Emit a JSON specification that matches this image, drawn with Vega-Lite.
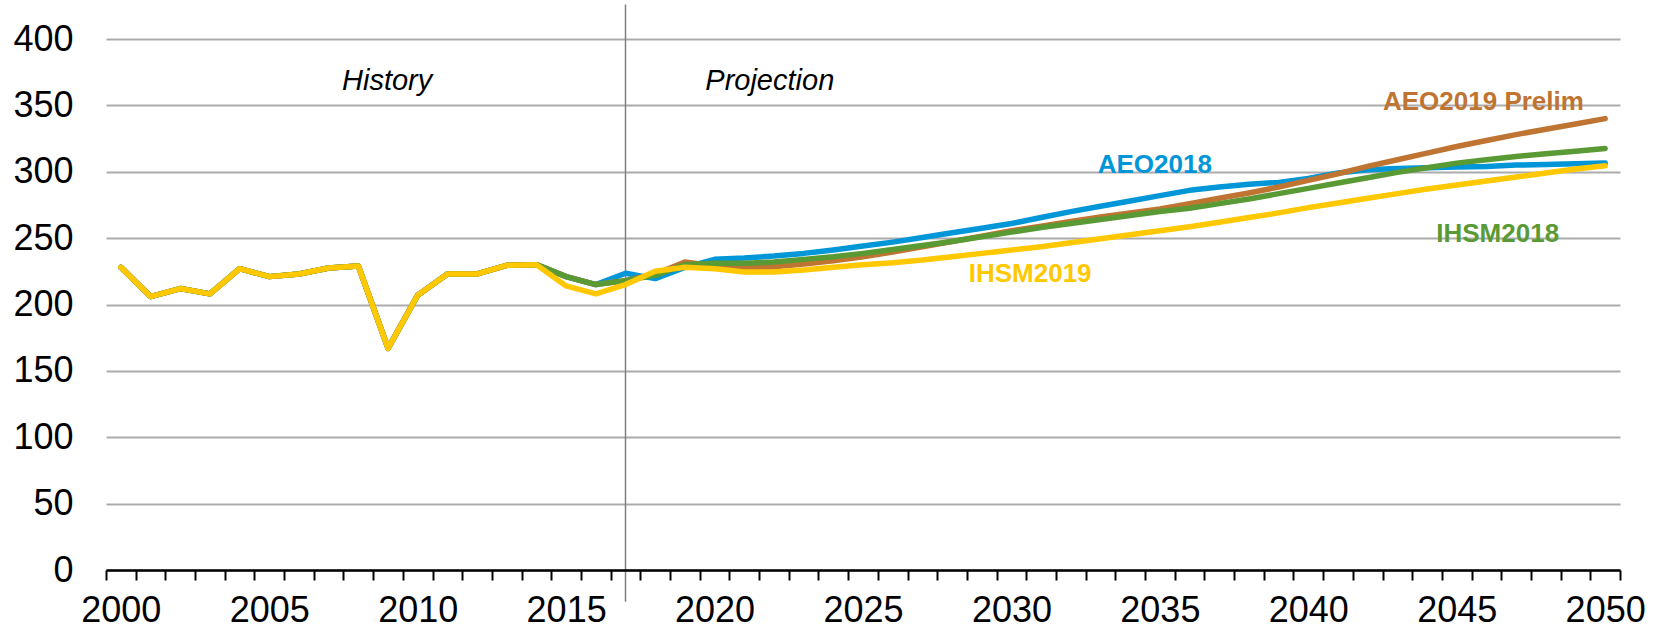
{
  "$schema": "https://vega.github.io/schema/vega-lite/v6.json",
  "width": 1514,
  "height": 531,
  "autosize": {"type": "none"},
  "padding": {"left": 106, "top": 39, "right": 43, "bottom": 61},
  "background": "white",
  "config": {
    "view": {"stroke": null},
    "font": "Liberation Sans"
  },
  "datasets": {
    "series": [
      {"year":2000,"value":228,"series":"AEO2018"},{"year":2001,"value":206,"series":"AEO2018"},{"year":2002,"value":212,"series":"AEO2018"},{"year":2003,"value":208,"series":"AEO2018"},{"year":2004,"value":227,"series":"AEO2018"},{"year":2005,"value":221,"series":"AEO2018"},{"year":2006,"value":223,"series":"AEO2018"},{"year":2007,"value":227.5,"series":"AEO2018"},{"year":2008,"value":229,"series":"AEO2018"},{"year":2009,"value":167,"series":"AEO2018"},{"year":2010,"value":207,"series":"AEO2018"},{"year":2011,"value":223,"series":"AEO2018"},{"year":2012,"value":223,"series":"AEO2018"},{"year":2013,"value":229.5,"series":"AEO2018"},{"year":2014,"value":230,"series":"AEO2018"},{"year":2015,"value":221,"series":"AEO2018"},{"year":2016,"value":215,"series":"AEO2018"},{"year":2017,"value":223.5,"series":"AEO2018"},{"year":2018,"value":219.5,"series":"AEO2018"},{"year":2019,"value":228,"series":"AEO2018"},{"year":2020,"value":234,"series":"AEO2018"},{"year":2021,"value":235,"series":"AEO2018"},{"year":2022,"value":236.5,"series":"AEO2018"},{"year":2023,"value":238.5,"series":"AEO2018"},{"year":2024,"value":241,"series":"AEO2018"},{"year":2025,"value":244,"series":"AEO2018"},{"year":2026,"value":247,"series":"AEO2018"},{"year":2027,"value":250.5,"series":"AEO2018"},{"year":2028,"value":254,"series":"AEO2018"},{"year":2029,"value":257.5,"series":"AEO2018"},{"year":2030,"value":261,"series":"AEO2018"},{"year":2031,"value":265.5,"series":"AEO2018"},{"year":2032,"value":270,"series":"AEO2018"},{"year":2033,"value":274,"series":"AEO2018"},{"year":2034,"value":278,"series":"AEO2018"},{"year":2035,"value":282,"series":"AEO2018"},{"year":2036,"value":286,"series":"AEO2018"},{"year":2037,"value":288.5,"series":"AEO2018"},{"year":2038,"value":290.5,"series":"AEO2018"},{"year":2039,"value":292,"series":"AEO2018"},{"year":2040,"value":295,"series":"AEO2018"},{"year":2041,"value":299,"series":"AEO2018"},{"year":2042,"value":301.5,"series":"AEO2018"},{"year":2043,"value":302.5,"series":"AEO2018"},{"year":2044,"value":303,"series":"AEO2018"},{"year":2045,"value":303.5,"series":"AEO2018"},{"year":2046,"value":304,"series":"AEO2018"},{"year":2047,"value":305,"series":"AEO2018"},{"year":2048,"value":305.5,"series":"AEO2018"},{"year":2049,"value":306,"series":"AEO2018"},{"year":2050,"value":306.5,"series":"AEO2018"},

      {"year":2000,"value":228,"series":"AEO2019 Prelim"},{"year":2001,"value":206,"series":"AEO2019 Prelim"},{"year":2002,"value":212,"series":"AEO2019 Prelim"},{"year":2003,"value":208,"series":"AEO2019 Prelim"},{"year":2004,"value":227,"series":"AEO2019 Prelim"},{"year":2005,"value":221,"series":"AEO2019 Prelim"},{"year":2006,"value":223,"series":"AEO2019 Prelim"},{"year":2007,"value":227.5,"series":"AEO2019 Prelim"},{"year":2008,"value":229,"series":"AEO2019 Prelim"},{"year":2009,"value":167,"series":"AEO2019 Prelim"},{"year":2010,"value":207,"series":"AEO2019 Prelim"},{"year":2011,"value":223,"series":"AEO2019 Prelim"},{"year":2012,"value":223,"series":"AEO2019 Prelim"},{"year":2013,"value":229.5,"series":"AEO2019 Prelim"},{"year":2014,"value":230,"series":"AEO2019 Prelim"},{"year":2015,"value":221,"series":"AEO2019 Prelim"},{"year":2016,"value":215,"series":"AEO2019 Prelim"},{"year":2017,"value":218,"series":"AEO2019 Prelim"},{"year":2018,"value":223,"series":"AEO2019 Prelim"},{"year":2019,"value":232,"series":"AEO2019 Prelim"},{"year":2020,"value":229,"series":"AEO2019 Prelim"},{"year":2021,"value":227.5,"series":"AEO2019 Prelim"},{"year":2022,"value":228.5,"series":"AEO2019 Prelim"},{"year":2023,"value":230.5,"series":"AEO2019 Prelim"},{"year":2024,"value":233,"series":"AEO2019 Prelim"},{"year":2025,"value":236,"series":"AEO2019 Prelim"},{"year":2026,"value":239.5,"series":"AEO2019 Prelim"},{"year":2027,"value":243.5,"series":"AEO2019 Prelim"},{"year":2028,"value":247.5,"series":"AEO2019 Prelim"},{"year":2029,"value":251.5,"series":"AEO2019 Prelim"},{"year":2030,"value":255.5,"series":"AEO2019 Prelim"},{"year":2031,"value":259,"series":"AEO2019 Prelim"},{"year":2032,"value":262.5,"series":"AEO2019 Prelim"},{"year":2033,"value":266,"series":"AEO2019 Prelim"},{"year":2034,"value":269,"series":"AEO2019 Prelim"},{"year":2035,"value":272,"series":"AEO2019 Prelim"},{"year":2036,"value":276,"series":"AEO2019 Prelim"},{"year":2037,"value":280,"series":"AEO2019 Prelim"},{"year":2038,"value":284,"series":"AEO2019 Prelim"},{"year":2039,"value":288.5,"series":"AEO2019 Prelim"},{"year":2040,"value":293.5,"series":"AEO2019 Prelim"},{"year":2041,"value":298.5,"series":"AEO2019 Prelim"},{"year":2042,"value":304,"series":"AEO2019 Prelim"},{"year":2043,"value":309,"series":"AEO2019 Prelim"},{"year":2044,"value":314,"series":"AEO2019 Prelim"},{"year":2045,"value":319,"series":"AEO2019 Prelim"},{"year":2046,"value":323.5,"series":"AEO2019 Prelim"},{"year":2047,"value":328,"series":"AEO2019 Prelim"},{"year":2048,"value":332,"series":"AEO2019 Prelim"},{"year":2049,"value":336,"series":"AEO2019 Prelim"},{"year":2050,"value":340,"series":"AEO2019 Prelim"},

      {"year":2000,"value":228,"series":"IHSM2018"},{"year":2001,"value":206,"series":"IHSM2018"},{"year":2002,"value":212,"series":"IHSM2018"},{"year":2003,"value":208,"series":"IHSM2018"},{"year":2004,"value":227,"series":"IHSM2018"},{"year":2005,"value":221,"series":"IHSM2018"},{"year":2006,"value":223,"series":"IHSM2018"},{"year":2007,"value":227.5,"series":"IHSM2018"},{"year":2008,"value":229,"series":"IHSM2018"},{"year":2009,"value":167,"series":"IHSM2018"},{"year":2010,"value":207,"series":"IHSM2018"},{"year":2011,"value":223,"series":"IHSM2018"},{"year":2012,"value":223,"series":"IHSM2018"},{"year":2013,"value":229.5,"series":"IHSM2018"},{"year":2014,"value":230,"series":"IHSM2018"},{"year":2015,"value":221,"series":"IHSM2018"},{"year":2016,"value":215,"series":"IHSM2018"},{"year":2017,"value":218,"series":"IHSM2018"},{"year":2018,"value":222,"series":"IHSM2018"},{"year":2019,"value":230,"series":"IHSM2018"},{"year":2020,"value":231,"series":"IHSM2018"},{"year":2021,"value":231,"series":"IHSM2018"},{"year":2022,"value":232,"series":"IHSM2018"},{"year":2023,"value":234,"series":"IHSM2018"},{"year":2024,"value":236,"series":"IHSM2018"},{"year":2025,"value":238.5,"series":"IHSM2018"},{"year":2026,"value":241.5,"series":"IHSM2018"},{"year":2027,"value":244.5,"series":"IHSM2018"},{"year":2028,"value":247.5,"series":"IHSM2018"},{"year":2029,"value":251,"series":"IHSM2018"},{"year":2030,"value":254.5,"series":"IHSM2018"},{"year":2031,"value":258,"series":"IHSM2018"},{"year":2032,"value":261,"series":"IHSM2018"},{"year":2033,"value":264,"series":"IHSM2018"},{"year":2034,"value":267,"series":"IHSM2018"},{"year":2035,"value":270,"series":"IHSM2018"},{"year":2036,"value":272.5,"series":"IHSM2018"},{"year":2037,"value":276,"series":"IHSM2018"},{"year":2038,"value":279.5,"series":"IHSM2018"},{"year":2039,"value":283.5,"series":"IHSM2018"},{"year":2040,"value":287.5,"series":"IHSM2018"},{"year":2041,"value":291.5,"series":"IHSM2018"},{"year":2042,"value":295.5,"series":"IHSM2018"},{"year":2043,"value":299.5,"series":"IHSM2018"},{"year":2044,"value":303,"series":"IHSM2018"},{"year":2045,"value":306.5,"series":"IHSM2018"},{"year":2046,"value":309,"series":"IHSM2018"},{"year":2047,"value":311.5,"series":"IHSM2018"},{"year":2048,"value":313.5,"series":"IHSM2018"},{"year":2049,"value":315.5,"series":"IHSM2018"},{"year":2050,"value":317.5,"series":"IHSM2018"},

      {"year":2000,"value":228,"series":"IHSM2019"},{"year":2001,"value":206,"series":"IHSM2019"},{"year":2002,"value":212,"series":"IHSM2019"},{"year":2003,"value":208,"series":"IHSM2019"},{"year":2004,"value":227,"series":"IHSM2019"},{"year":2005,"value":221,"series":"IHSM2019"},{"year":2006,"value":223,"series":"IHSM2019"},{"year":2007,"value":227.5,"series":"IHSM2019"},{"year":2008,"value":229,"series":"IHSM2019"},{"year":2009,"value":167,"series":"IHSM2019"},{"year":2010,"value":207,"series":"IHSM2019"},{"year":2011,"value":223,"series":"IHSM2019"},{"year":2012,"value":223,"series":"IHSM2019"},{"year":2013,"value":229.5,"series":"IHSM2019"},{"year":2014,"value":230,"series":"IHSM2019"},{"year":2015,"value":214,"series":"IHSM2019"},{"year":2016,"value":208,"series":"IHSM2019"},{"year":2017,"value":215,"series":"IHSM2019"},{"year":2018,"value":225,"series":"IHSM2019"},{"year":2019,"value":228,"series":"IHSM2019"},{"year":2020,"value":227,"series":"IHSM2019"},{"year":2021,"value":224.5,"series":"IHSM2019"},{"year":2022,"value":224.5,"series":"IHSM2019"},{"year":2023,"value":226,"series":"IHSM2019"},{"year":2024,"value":228,"series":"IHSM2019"},{"year":2025,"value":230,"series":"IHSM2019"},{"year":2026,"value":231.5,"series":"IHSM2019"},{"year":2027,"value":233.5,"series":"IHSM2019"},{"year":2028,"value":236,"series":"IHSM2019"},{"year":2029,"value":238.5,"series":"IHSM2019"},{"year":2030,"value":241,"series":"IHSM2019"},{"year":2031,"value":243.5,"series":"IHSM2019"},{"year":2032,"value":246.5,"series":"IHSM2019"},{"year":2033,"value":249.5,"series":"IHSM2019"},{"year":2034,"value":252.5,"series":"IHSM2019"},{"year":2035,"value":255.5,"series":"IHSM2019"},{"year":2036,"value":258.5,"series":"IHSM2019"},{"year":2037,"value":262,"series":"IHSM2019"},{"year":2038,"value":265.5,"series":"IHSM2019"},{"year":2039,"value":269,"series":"IHSM2019"},{"year":2040,"value":273,"series":"IHSM2019"},{"year":2041,"value":276.5,"series":"IHSM2019"},{"year":2042,"value":280,"series":"IHSM2019"},{"year":2043,"value":283.5,"series":"IHSM2019"},{"year":2044,"value":287,"series":"IHSM2019"},{"year":2045,"value":290,"series":"IHSM2019"},{"year":2046,"value":293,"series":"IHSM2019"},{"year":2047,"value":296,"series":"IHSM2019"},{"year":2048,"value":299,"series":"IHSM2019"},{"year":2049,"value":302,"series":"IHSM2019"},{"year":2050,"value":304.5,"series":"IHSM2019"}
    ],
    "labels": [
      {"year":2045.9,"value":352.5,"series":"AEO2019 Prelim"},
      {"year":2034.83,"value":305.1,"series":"AEO2018"},
      {"year":2046.38,"value":253.1,"series":"IHSM2018"},
      {"year":2030.63,"value":223,"series":"IHSM2019"}
    ],
    "periods": [
      {"year":2008.97,"value":368.5,"label":"History"},
      {"year":2021.86,"value":368.5,"label":"Projection"}
    ],
    "divider": [
      {"year":2017,"value":-24,"high":426}
    ]
  },
  "encoding": {
    "x": {
      "field": "year", "type": "quantitative",
      "scale": {"domain": [1999.5, 2050.5], "nice": false, "zero": false},
      "axis": {
        "title": null,
        "values": [1999.5,2000.5,2001.5,2002.5,2003.5,2004.5,2005.5,2006.5,2007.5,2008.5,2009.5,2010.5,2011.5,2012.5,2013.5,2014.5,2015.5,2016.5,2017.5,2018.5,2019.5,2020.5,2021.5,2022.5,2023.5,2024.5,2025.5,2026.5,2027.5,2028.5,2029.5,2030.5,2031.5,2032.5,2033.5,2034.5,2035.5,2036.5,2037.5,2038.5,2039.5,2040.5,2041.5,2042.5,2043.5,2044.5,2045.5,2046.5,2047.5,2048.5,2049.5,2050.5],
        "labelExpr": "(datum.value + 0.5) % 5 == 0 ? format(datum.value + 0.5, 'd') : ''",
        "labelOffset": 14.85,
        "labelFlush": false,
        "labelBound": false,
        "labelOverlap": false,
        "labelFontSize": 36,
        "labelColor": "black",
        "labelPadding": 13,
        "grid": false,
        "ticks": true,
        "tickSize": 10,
        "tickWidth": 2,
        "tickColor": "black",
        "domain": true,
        "domainColor": "black",
        "domainWidth": 2.5,
        "zindex": 1
      }
    },
    "y": {
      "field": "value", "type": "quantitative",
      "scale": {"domain": [0, 400], "nice": false},
      "axis": {
        "title": null,
        "values": [0,50,100,150,200,250,300,350,400],
        "grid": true,
        "gridColor": "#ababab",
        "gridWidth": 2,
        "domain": false,
        "ticks": false,
        "labelFontSize": 36,
        "labelColor": "black",
        "labelPadding": 33
      }
    }
  },
  "layer": [
    {
      "data": {"name": "divider"},
      "mark": {"type": "rule", "color": "#808080", "strokeWidth": 1.5, "clip": false},
      "encoding": {
        "y2": {"field": "high"}
      }
    },
    {
      "data": {"name": "series"},
      "mark": {"type": "line", "strokeWidth": 5.5, "strokeJoin": "round", "strokeCap": "round"},
      "encoding": {
        "color": {
          "field": "series", "type": "nominal",
          "scale": {
            "domain": ["AEO2018", "AEO2019 Prelim", "IHSM2018", "IHSM2019"],
            "range": ["#0096D8", "#BF7431", "#5A9A35", "#FFC800"]
          },
          "legend": null
        }
      }
    },
    {
      "data": {"name": "labels"},
      "mark": {"type": "text", "fontSize": 26, "fontWeight": "bold", "align": "center", "baseline": "middle"},
      "encoding": {
        "text": {"field": "series"},
        "color": {"field": "series", "type": "nominal", "legend": null}
      }
    },
    {
      "data": {"name": "periods"},
      "mark": {"type": "text", "fontSize": 29, "fontStyle": "italic", "align": "center", "baseline": "middle", "color": "black"},
      "encoding": {
        "text": {"field": "label"}
      }
    }
  ]
}
